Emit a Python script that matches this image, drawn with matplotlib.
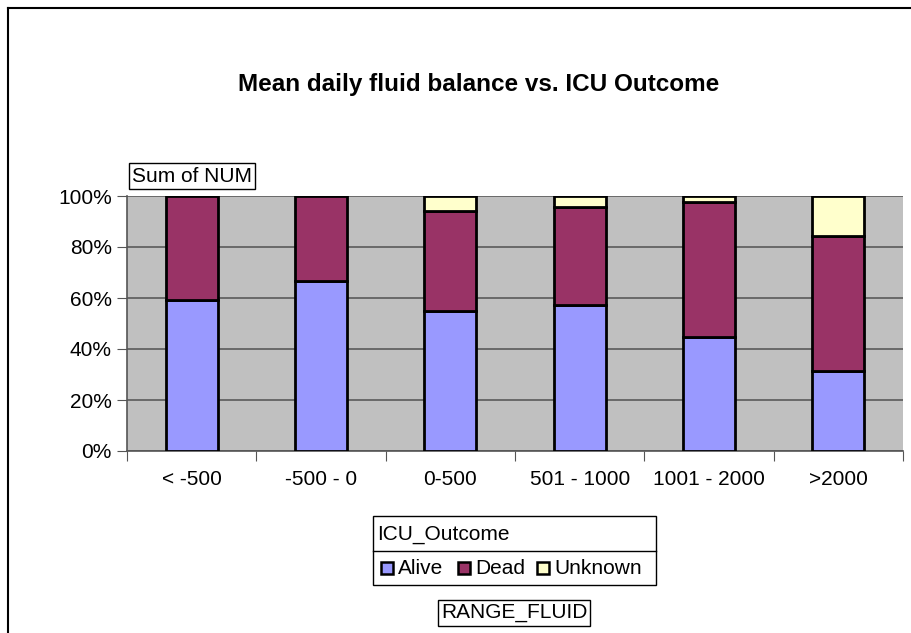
import matplotlib
matplotlib.use("Agg")
import matplotlib.pyplot as plt
from matplotlib.patches import Rectangle
from matplotlib.lines import Line2D
import numpy as np

plt.rcParams["font.family"] = ["Liberation Sans", "DejaVu Sans"]

# Datos (porcentaje por categoria).
categorias = ["< -500", "-500 - 0", "0-500", "501 - 1000", "1001 - 2000", ">2000"]
vivos = [59.2, 66.7, 54.9, 57.3, 44.7, 31.4]
muertos = [40.8, 33.3, 39.2, 38.4, 52.9, 52.9]
desconocidos = [0.0, 0.0, 5.9, 4.3, 2.4, 15.7]
series = ["Alive", "Dead", "Unknown"]
colores = ["#9999FF", "#993366", "#FFFFCC"]

W, H = 912, 633
TAM = 15  # tamano de letra general

fig = plt.figure(figsize=(W / 100, H / 100), dpi=100)


def fx(px):
    return px / W


def fy(py):
    return 1 - py / H


ax = fig.add_axes([fx(127), fy(451), fx(903) - fx(127), fy(196) - fy(451)])
ax.set_facecolor("#C0C0C0")

x = np.arange(len(categorias))
base = np.zeros(len(categorias))
for nombre, valores, color in zip(series, [vivos, muertos, desconocidos], colores):
    valores = np.array(valores)
    mask = valores > 0
    ax.bar(x[mask], valores[mask], bottom=base[mask], width=0.4,
           color=color, edgecolor="black", linewidth=2, zorder=3)
    base = base + valores

ax.set_xlim(-0.5, len(categorias) - 0.5)
ax.set_ylim(0, 100)
ax.set_yticks(range(0, 101, 20))
ax.set_yticklabels([f"{v}%" for v in range(0, 101, 20)], fontsize=TAM)
ax.yaxis.grid(True, color="#5a5a5a", linewidth=1.2, zorder=1)
ax.set_axisbelow(True)

# Ticks en los limites de categoria, etiquetas centradas.
ax.set_xticks(np.arange(-0.5, len(categorias), 1.0))
ax.set_xticklabels([])
ax.set_xticks(x, minor=True)
ax.set_xticklabels(categorias, minor=True, fontsize=TAM)
ax.tick_params(axis="x", which="minor", length=0, pad=14)
ax.tick_params(axis="x", which="major", length=7, direction="out", color="#555555")
ax.tick_params(axis="y", length=7, direction="out", color="#555555", pad=4)

for lado in ["top", "right"]:
    ax.spines[lado].set_visible(False)
for lado in ["left", "bottom"]:
    ax.spines[lado].set_color("#555555")
    ax.spines[lado].set_linewidth(1.2)

fig.text(fx(479), fy(84), "Mean daily fluid balance vs. ICU Outcome",
         ha="center", va="center", fontsize=17.5, fontweight="bold")

caja = dict(boxstyle="square,pad=0.15", facecolor="white", edgecolor="black", linewidth=1)
fig.text(fx(132), fy(176), "Sum of NUM", ha="left", va="center", fontsize=TAM, bbox=caja)
fig.text(fx(514), fy(613), "RANGE_FLUID", ha="center", va="center", fontsize=TAM, bbox=caja)

# Leyenda manual al estilo Excel (titulo + separador + entradas).
fig.add_artist(Rectangle((fx(373), fy(585)), fx(656) - fx(373), fy(516) - fy(585),
                         transform=fig.transFigure, facecolor="white",
                         edgecolor="black", linewidth=1))
fig.add_artist(Line2D([fx(373), fx(656)], [fy(551), fy(551)],
                      transform=fig.transFigure, color="black", linewidth=1))
fig.text(fx(377), fy(534), "ICU_Outcome", ha="left", va="center", fontsize=TAM)
pos_cuadro = [381, 458, 537]
for px, nombre, color in zip(pos_cuadro, series, colores):
    fig.add_artist(Rectangle((fx(px), fy(574)), fx(12), 12 / H,
                             transform=fig.transFigure, facecolor=color,
                             edgecolor="black", linewidth=1.8))
    fig.text(fx(px + 17), fy(568), nombre, ha="left", va="center", fontsize=TAM)

# Marco exterior del grafico.
fig.add_artist(Line2D([fx(8.5), fx(8.5)], [fy(7.5), 0], transform=fig.transFigure,
                      color="black", linewidth=1.5))
fig.add_artist(Line2D([fx(8), 1], [fy(7.5), fy(7.5)], transform=fig.transFigure,
                      color="black", linewidth=1.5))

fig.savefig("out.png", dpi=100)
